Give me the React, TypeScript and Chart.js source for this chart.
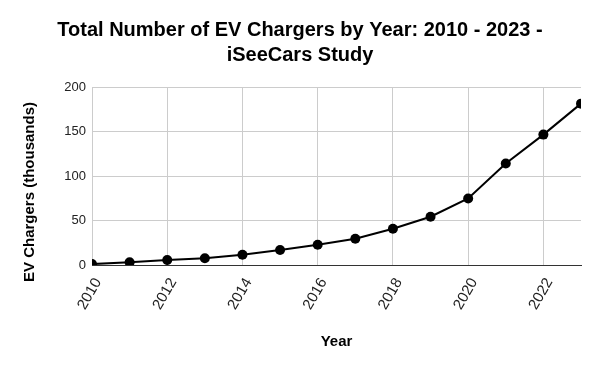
import React, { useEffect, useRef } from "react";
import { Chart, registerables } from "chart.js";

Chart.register(...registerables);

const years = ["2010","2011","2012","2013","2014","2015","2016","2017","2018","2019","2020","2021","2022","2023"];
const chargers = [1, 3, 5.6, 7.5, 11.6, 16.9, 22.8, 29.5, 40.7, 54.2, 74.8, 114, 146.5, 181.3];
const titleLines = ["Total Number of EV Chargers by Year: 2010 - 2023 -", "iSeeCars Study"];
const yTicks = [0, 50, 100, 150, 200];
const yTitle = "EV Chargers (thousands)";
const xTitle = "Year";

const FONT = "Arial, 'Liberation Sans', sans-serif";

const yTitlePlugin = {
  id: "yTitleText",
  afterDraw(chart: any) {
    const ctx = chart.ctx;
    ctx.save();
    ctx.translate(30, 192);
    ctx.rotate(-Math.PI / 2);
    ctx.fillStyle = "#000";
    ctx.font = `bold 15px ${FONT}`;
    ctx.textAlign = "center";
    ctx.textBaseline = "middle";
    ctx.fillText(yTitle, 0, 0);
    ctx.restore();
  },
};

export default function App() {
  const ref = useRef<HTMLCanvasElement>(null);
  useEffect(() => {
    document.body.style.margin = "0";
    const chart = new Chart(ref.current!, {
      type: "line",
      data: {
        labels: years,
        datasets: [
          {
            data: chargers,
            borderColor: "#000",
            backgroundColor: "#000",
            borderWidth: 2,
            pointRadius: 5,
            pointHoverRadius: 5,
            pointBackgroundColor: "#000",
            pointBorderColor: "#000",
            pointBorderWidth: 0,
            tension: 0,
            clip: 0,
          },
        ],
      },
      plugins: [yTitlePlugin],
      options: {
        responsive: false,
        animation: false,
        layout: { padding: { left: 19, right: 19, top: 0, bottom: 0 } },
        plugins: {
          legend: { display: false },
          tooltip: { enabled: false },
          title: {
            display: true,
            text: titleLines,
            color: "#000",
            font: { family: FONT, size: 20, weight: "bold", lineHeight: 1.25 },
            padding: { top: 18, bottom: 19 },
          },
        },
        scales: {
          x: {
            type: "category",
            offset: false,
            afterFit: (s: any) => { s.height = 106; },
            grid: { color: "#cccccc", drawTicks: false, lineWidth: 1 },
            border: { color: "#333333", width: 1 },
            ticks: {
              autoSkip: false,
              maxRotation: 60,
              minRotation: 60,
              padding: 10,
              labelOffset: 6,
              color: "#222",
              font: { family: FONT, size: 15 },
              callback: function (this: any, v: any, i: number) {
                return i % 2 === 0 ? years[i] : null;
              },
            },
            title: {
              display: true,
              text: xTitle,
              color: "#000",
              font: { family: FONT, size: 15, weight: "bold" },
              padding: { top: 0, bottom: 20 },
            },
          },
          y: {
            min: 0,
            max: 200,
            afterFit: (s: any) => { s.width = 73; },
            afterBuildTicks: (s: any) => { s.ticks = yTicks.map((v) => ({ value: v })); },
            grid: { color: "#cccccc", drawTicks: false, lineWidth: 1 },
            border: { display: false },
            ticks: {
              padding: 6,
              color: "#222",
              font: { family: FONT, size: 13 },
            },
          },
        },
      },
    });
    return () => chart.destroy();
  }, []);
  return (
    <div style={{ width: 600, height: 371 }}>
      <canvas ref={ref} width={600} height={371} style={{ display: "block" }} />
    </div>
  );
}
